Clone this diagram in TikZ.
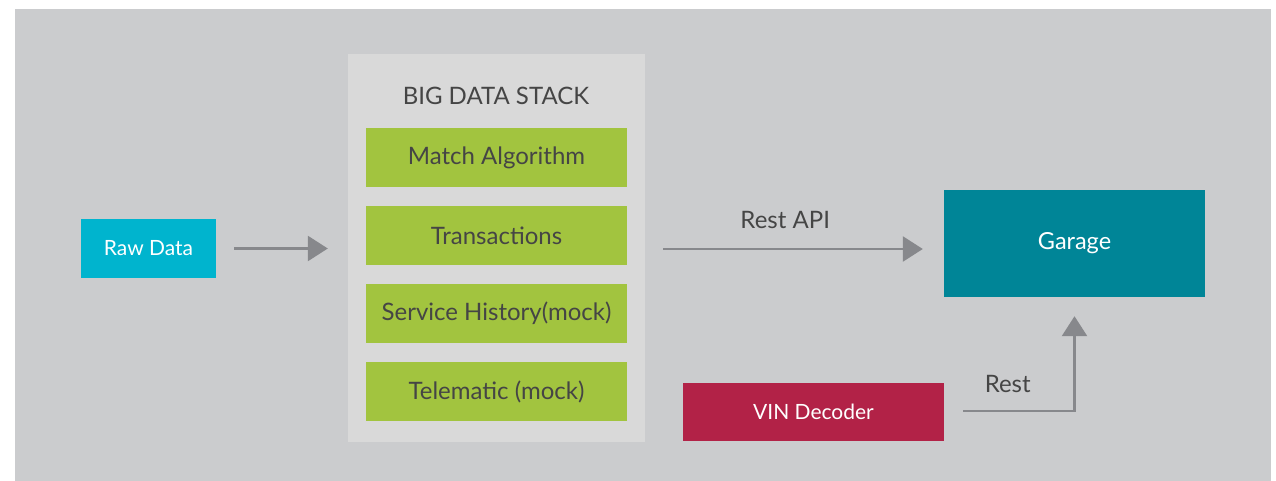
\documentclass[tikz,border=0pt]{standalone}
\usepackage{fontspec}
\setmainfont{Lato}
\usetikzlibrary{arrows.meta}
\definecolor{bggray}{HTML}{CBCCCE}
\definecolor{stackgray}{HTML}{D9D9D9}
\definecolor{leaf}{HTML}{A2C43F}
\definecolor{cyanbox}{HTML}{00B4CE}
\definecolor{tealbox}{HTML}{008597}
\definecolor{crimson}{HTML}{B22247}
\definecolor{arrowgray}{HTML}{87888C}
\definecolor{txt}{HTML}{454545}
\tikzset{
  box/.style={inner sep=0pt, minimum width=261pt, minimum height=59pt, font=\fontsize{21}{24}\selectfont},
  layer/.style={box, fill=leaf, text=txt, font=\fontsize{24}{27}\selectfont},
  flow/.style={draw=arrowgray, line width=2.6pt, -{Triangle[length=20pt,width=25pt]}},
  lbl/.style={text=txt, font=\fontsize{24}{27}\selectfont, inner sep=0pt}
}
\begin{document}
\begin{tikzpicture}[x=1pt,y=-1pt]
\useasboundingbox (0,0) rectangle (1276,481);
\fill[bggray] (15,9) rectangle (1271,481);
\node[fill=stackgray, inner sep=0pt, minimum width=297pt, minimum height=388pt] (stack) at (496.5,248) {};
\node[lbl] (title) at (496,96) {BIG DATA STACK};
\node[layer] (match) at (496.5,157.5) {Match Algorithm};
\node[layer] (trans) at (496.5,235.5) {Transactions};
\node[layer] (service) at (496.5,313.5) {Service History(mock)};
\node[layer] (tele) at (496.5,391.5) {Telematic (mock)};
\node[box, fill=cyanbox, text=white, minimum width=135pt] (raw) at (148.5,248.5) {Raw Data};
\node[box, fill=tealbox, text=white, minimum height=107pt, font=\fontsize{23.5}{27}\selectfont] (garage) at (1074.5,243.5) {Garage};
\node[box, fill=crimson, text=white, minimum height=58pt] (vin) at (813.5,412) {VIN Decoder};
\draw[flow] ([xshift=18pt]raw.east) -- ([xshift=-20pt]raw.east -| stack.west);
\draw[flow] ([xshift=18pt,yshift=-1pt]stack.east) -- node[lbl, above=19pt, pos=0.47] (restapi) {Rest API} ([xshift=-21pt,yshift=-1pt]stack.east -| garage.west);
\draw[flow] ([xshift=19pt,yshift=1pt]vin.east) -| node[lbl, pos=0.2, above=17pt] (rest) {Rest} ([yshift=-19pt]garage.south);
\end{tikzpicture}
\end{document}
